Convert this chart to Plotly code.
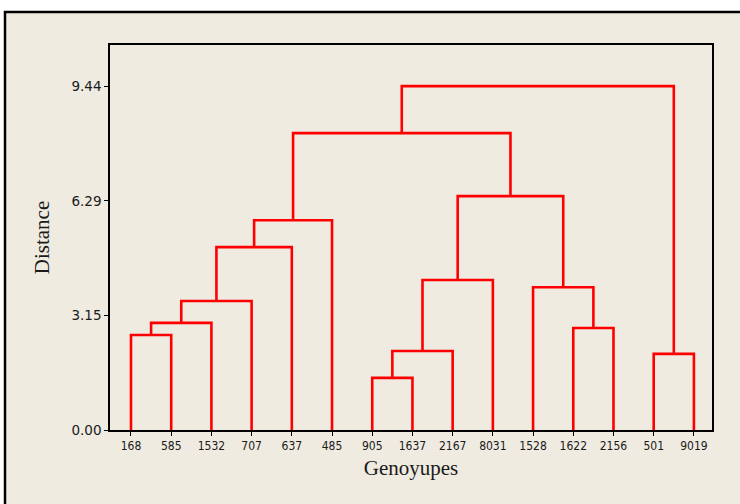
import plotly.graph_objects as go

# ---- data ----
leaves = ["168", "585", "1532", "707", "637", "485", "905", "1637",
          "2167", "8031", "1528", "1622", "2156", "501", "9019"]
# linkage: ids 0..14 are leaves, 15+ are clusters in order of creation
link_left = [0, 15, 16, 17, 18, 6, 20, 21, 11, 10, 22, 19, 13, 26]
link_right = [1, 2, 3, 4, 5, 7, 8, 9, 12, 23, 24, 25, 14, 27]
link_height = [2.61, 2.94, 3.54, 5.02, 5.76, 1.43, 2.17, 4.12, 2.80, 3.92,
               6.42, 8.15, 2.09, 9.44]
ytick_vals = [0.0, 3.15, 6.29, 9.44]
ytick_text = ["0.00", "3.15", "6.29", "9.44"]

# ---- build dendrogram segments ----
n = len(leaves)
pos = {i: i + 1 for i in range(n)}
hgt = {i: 0.0 for i in range(n)}
xs, ys = [], []
for k, (a, b, h) in enumerate(zip(link_left, link_right, link_height)):
    cid = n + k
    xa, xb = pos[a], pos[b]
    xs += [xa, xa, xb, xb, None]
    ys += [hgt[a], h, h, hgt[b], None]
    pos[cid] = (xa + xb) / 2
    hgt[cid] = h

fig = go.Figure()
fig.add_trace(go.Scatter(x=xs, y=ys, mode="lines",
                         line=dict(color="#FF0000", width=2.6),
                         hoverinfo="skip", showlegend=False))

# pixel -> paper helpers for decoration
L, R, T, B = 110, 712, 45, 430
def px(x):
    return (x - L) / (R - L)
def py(y):
    return (B - y) / (B - T)

fig.add_shape(type="rect", xref="paper", yref="paper",
              x0=px(5), x1=px(760), y0=py(12), y1=py(520),
              fillcolor="#EFEBE1", line=dict(color="#000000", width=2.5),
              layer="below")

fig.update_layout(
    width=740, height=504,
    margin=dict(l=L, r=740 - R, t=T, b=504 - B),
    paper_bgcolor="#FFFFFF", plot_bgcolor="#FFFFFF",
    xaxis=dict(range=[0.478, 15.45], tickmode="array",
               tickvals=list(range(1, n + 1)), ticktext=leaves,
               ticks="outside", ticklen=4, tickcolor="#000",
               showgrid=False, zeroline=False,
               showline=True, linecolor="#000", linewidth=1.5, mirror=True,
               tickfont=dict(family="DejaVu Sans Condensed, Liberation Sans Narrow, DejaVu Sans", size=12, color="#1a1a1a"),
               title=dict(text="Genoyupes", standoff=8,
                          font=dict(family="Liberation Serif", size=21, color="#1a1a1a"))),
    yaxis=dict(range=[0, 10.57], tickmode="array",
               tickvals=ytick_vals, ticktext=ytick_text,
               ticks="outside", ticklen=4, tickcolor="#000",
               showgrid=False, zeroline=False,
               showline=True, linecolor="#000", linewidth=1.5, mirror=True,
               tickfont=dict(family="DejaVu Sans, Verdana", size=13.5, color="#1a1a1a"),
               title=dict(text="Distance", standoff=16,
                          font=dict(family="Liberation Serif", size=21, color="#1a1a1a"))),
)

fig.write_html("out.html", config={"displayModeBar": False},
               post_script="document.body.style.margin='0';document.body.style.overflow='hidden';")
